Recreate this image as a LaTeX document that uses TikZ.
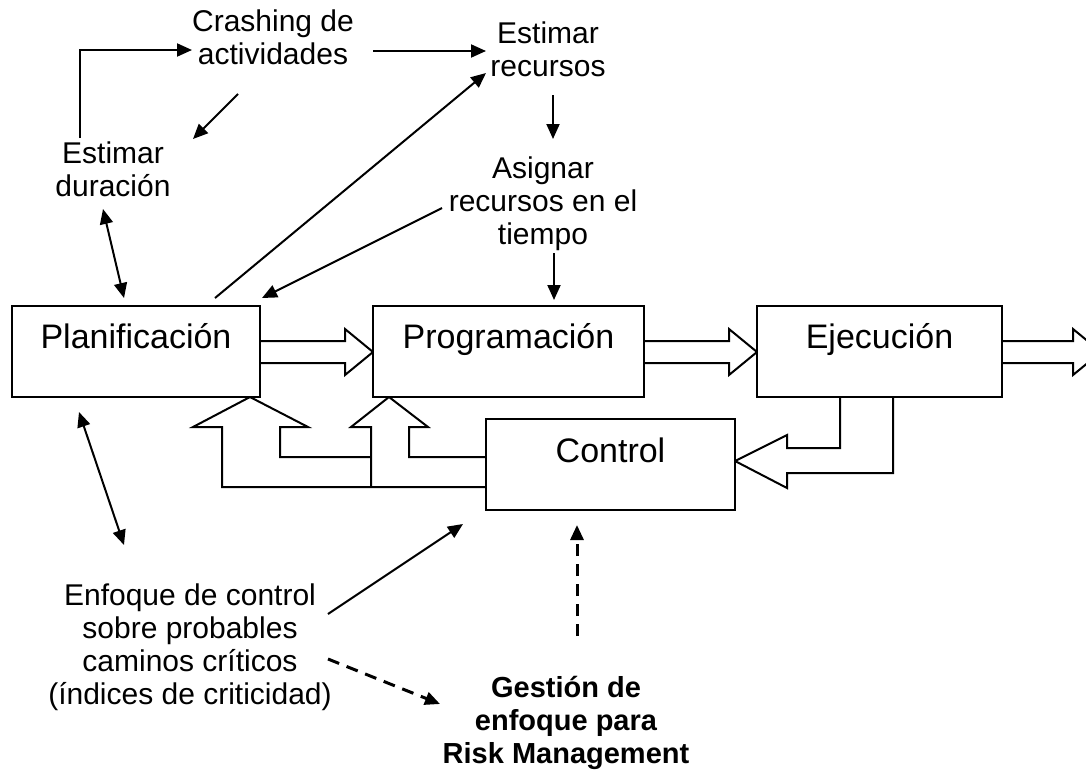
\documentclass[tikz,border=0pt]{standalone}
\usepackage{fontspec}
\setmainfont{Liberation Sans}
\usetikzlibrary{arrows.meta}
\begin{document}
\begin{tikzpicture}[x=1pt,y=-1pt,
  lbl/.style={inner sep=0pt, align=center, font=\fontsize{30}{33}\selectfont},
  blbl/.style={lbl, font=\fontsize{29}{33}\selectfont\bfseries},
  gbox/.style={draw, line width=2pt, minimum width=#1, minimum height=91pt, inner sep=0pt,
    text height=42pt, text depth=49pt, font=\fontsize{34}{40}\selectfont},
  tip/.style={-{Triangle[length=15pt,width=13pt]}},
  conn/.style={line width=2pt, tip},
  conn2/.style={line width=2pt, {Triangle[length=15pt,width=13pt]}-{Triangle[length=15pt,width=13pt]}},
  dconn/.style={line width=3pt, dash pattern=on 12pt off 8pt, tip},
  barrow/.style={draw, line width=2pt, fill=white, line join=miter}
]
\useasboundingbox (0,0) rectangle (1086,774);
\clip (0,0) rectangle (1086,774);

% text labels
\node[lbl] (crash) at (273,37) {Crashing de\\actividades};
\node[lbl] (erec) at (548,49) {Estimar\\recursos};
\node[lbl] (edur) at (113,169) {Estimar\\duración};
\node[lbl] (asig) at (543,203.5) {Asignar\\recursos en el\\tiempo};
\node[lbl] (enf) at (190,647) {Enfoque de control\\sobre probables\\caminos críticos\\(índices de criticidad)};
\node[blbl] (gest) at (566,722.5) {Gestión de\\enfoque para\\Risk Management};

% block arrows (drawn under boxes)
\path[barrow] (260,341) -- (345,341) -- (345,329) -- (373,352) -- (345,375) -- (345,363) -- (260,363);
\path[barrow] (644,341) -- (729,341) -- (729,329) -- (757,352) -- (729,375) -- (729,363) -- (644,363);
\path[barrow] (1002,341) -- (1073,341) -- (1073,329) -- (1101,352) -- (1073,375) -- (1073,363) -- (1002,363);
% feedback from Ejecucion to Control
\path[barrow] (840,397) -- (840,448) -- (787,448) -- (787,435) -- (735,461) -- (787,488) -- (787,473) -- (893,473) -- (893,397);
% feedback from Control to Planificacion and Programacion
\path[barrow,fill=none] (486,487) -- (222,487) -- (222,427) -- (193,427) -- (250,397) -- (308,427) -- (280,427) -- (280,457) -- (371,457);
\path[barrow,fill=none] (371,487) -- (371,427) -- (351,427) -- (389,397) -- (428,427) -- (409,427) -- (409,457) -- (486,457);

% boxes
\node[gbox=248pt, fill=white] (plan) at (136,351.5) {Planificación};
\node[gbox=271pt, fill=white] (prog) at (508.5,351.5) {Programación};
\node[gbox=245pt, fill=white] (ejec) at (879.5,351.5) {Ejecución};
\node[gbox=249pt, fill=white, text height=43pt, text depth=48pt] (ctrl) at (610.5,464.5) {Control};

% connector end points
\coordinate (d1) at (80,138);
\coordinate (d1c) at (80,50);
\coordinate (c1) at (192,50);
\coordinate (c2) at (238,94);
\coordinate (d2) at (193,139);
\coordinate (c3) at (373,51);
\coordinate (r1) at (486,51);
\coordinate (p1) at (215,298);
\coordinate (r2) at (486,73);
\coordinate (r3) at (553,95);
\coordinate (a1) at (553,139);
\coordinate (a2) at (442,208);
\coordinate (p2) at (262,298);
\coordinate (a3) at (554,253);
\coordinate (g1) at (554,300);
\coordinate (d3) at (103,209);
\coordinate (p3) at (124,298);
\coordinate (p4) at (79,412);
\coordinate (e1) at (124,545);
\coordinate (e2) at (328,614);
\coordinate (k1) at (463,524);
\coordinate (e3) at (328,659);
\coordinate (s1) at (440,704);
\coordinate (s2) at (577,636);
\coordinate (k2) at (577,525);

\draw[conn] (d1) -- (d1c) -- (c1);
\draw[conn] (c2) -- (d2);
\draw[conn] (c3) -- (r1);
\draw[conn] (p1) -- (r2);
\draw[conn] (r3) -- (a1);
\draw[conn] (a2) -- (p2);
\draw[conn] (a3) -- (g1);
\draw[conn2] (d3) -- (p3);
\draw[conn2] (p4) -- (e1);
\draw[conn] (e2) -- (k1);
\draw[dconn] (e3) -- (s1);
\draw[dconn] (s2) -- (k2);
\end{tikzpicture}
\end{document}
